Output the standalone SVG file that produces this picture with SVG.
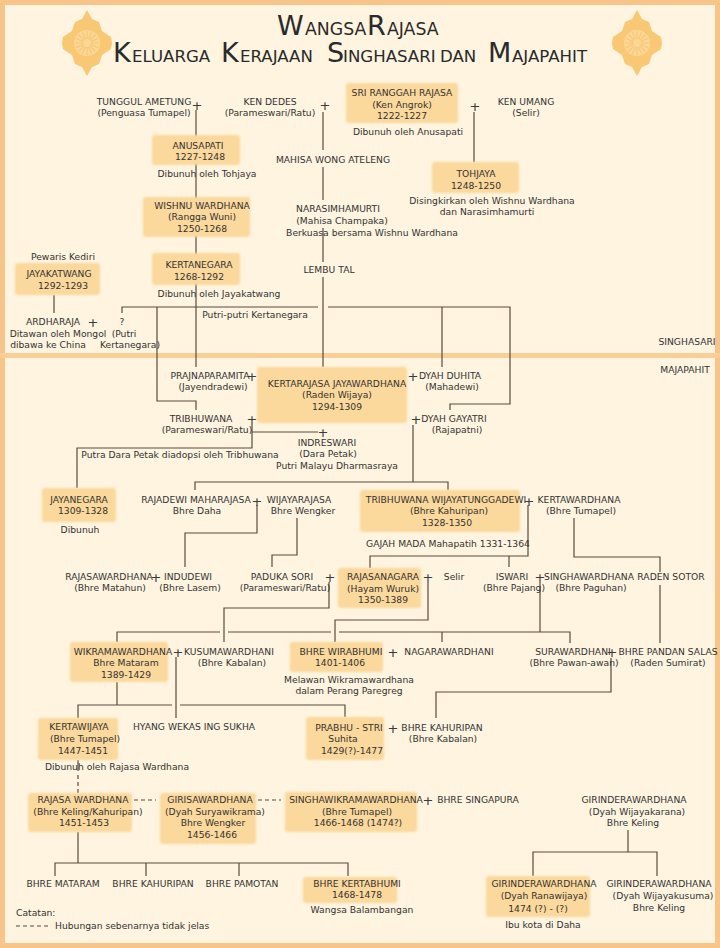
<svg xmlns="http://www.w3.org/2000/svg" width="720" height="948" viewBox="0 0 720 948">
<style>
.t{font-family:"DejaVu Sans","Liberation Sans",sans-serif;font-size:9.2px;fill:#333;text-anchor:middle}
.s{text-anchor:start}
.p{font-family:"DejaVu Sans","Liberation Sans",sans-serif;font-size:13px;fill:#3a3a3a;text-anchor:middle}
.c{fill:none;stroke:#5a4b3d;stroke-width:1.2}
.d{stroke-dasharray:4,3}
.b{fill:#fbd89b;filter:url(#soft)}
.ti{font-family:"DejaVu Sans","Liberation Sans",sans-serif;fill:#2a2a2a}
.big{font-size:27px}
.sm1{font-size:17.3px}
.sm2{font-size:16.6px}
</style>
<defs>
<filter id="soft" x="-5%" y="-10%" width="110%" height="120%"><feGaussianBlur stdDeviation="0.8"/></filter>
<g id="emblem">
<path d="M0,-33 L5,-24 L12,-21 L15,-12 L24,-6 L25,0 L24,6 L15,12 L12,21 L5,24 L0,33 L-5,24 L-12,21 L-15,12 L-24,6 L-25,0 L-24,-6 L-15,-12 L-12,-21 L-5,-24 Z" fill="#f8c874"/>
<circle r="13" fill="#fbd797"/>
<g stroke="#f8c874" stroke-width="1.2">
<path d="M0,-12V-5M0,12V5M-12,0H-5M12,0H5M8.5,-8.5L3.5,-3.5M-8.5,8.5L-3.5,3.5M8.5,8.5L3.5,3.5M-8.5,-8.5L-3.5,-3.5M4.6,-11L1.9,-4.6M-4.6,11L-1.9,4.6M11,-4.6L4.6,-1.9M-11,4.6L-4.6,1.9M11,4.6L4.6,1.9M-11,-4.6L-4.6,-1.9M4.6,11L1.9,4.6M-4.6,-11L-1.9,-4.6"/>
</g>
<circle r="4.5" fill="#fbd797" stroke="#f8c874" stroke-width="1.2"/>
</g>
</defs>

<rect x="0" y="0" width="720" height="948" fill="#fef4df"/>
<rect x="0" y="0" width="720" height="948" fill="none" stroke="#f7c58a" stroke-width="10"/>
<line x1="0" y1="355.5" x2="720" y2="355.5" stroke="#f9cf98" stroke-width="5"/>

<g id="title">
<use href="#emblem" x="87" y="43"/>
<use href="#emblem" x="637" y="43"/>
<text class="ti" y="35"><tspan class="big" x="277">W</tspan><tspan class="sm1" x="305">ANGSA</tspan><tspan class="big" x="367">R</tspan><tspan class="sm1" x="387">AJASA</tspan></text>
<text class="ti" y="62"><tspan class="big" x="113">K</tspan><tspan class="sm2" x="132">ELUARGA </tspan><tspan class="big" x="221">K</tspan><tspan class="sm2" x="240">ERAJAAN </tspan><tspan class="big" x="327">S</tspan><tspan class="sm2" x="343">INGHASARI </tspan><tspan class="sm2" x="440">DAN </tspan><tspan class="big" x="488">M</tspan><tspan class="sm2" x="512">AJAPAHIT</tspan></text>
</g>

<g id="era-labels">
<text class="t" x="687" y="345">SINGHASARI</text>
<text class="t" x="685" y="373">MAJAPAHIT</text>
</g>

<g id="connectors">
<path class="c" d="M196,110V367"/>
<path class="c" d="M323,112V150M323,167V200M323,228V262M323,277V367"/>
<path class="c" d="M474,112V162"/>
<path class="c" d="M54,295V313"/>
<path class="c" d="M122,313V307H318M328,307H510V404H450V410"/>
<path class="c" d="M442,307V367"/>
<path class="c" d="M157,307V401H196V410"/>
<path class="c" d="M252,424V448H77V488"/>
<path class="c" d="M252,432H318"/>
<path class="c" d="M413,425V482M195,490V482H448V490"/>
<path class="c" d="M257,505V533H185V567"/>
<path class="c" d="M297,518V555H272V567"/>
<path class="c" d="M528,505V556H370V568M509,556V567"/>
<path class="c" d="M574,518V557H660V572M660,585V643"/>
<path class="c" d="M329,582V608H224V642"/>
<path class="c" d="M428,582V620H335V642"/>
<path class="c" d="M540,582V632"/>
<path class="c" d="M117,642V632H220M228,632H331M339,632H570V643M442,632V642"/>
<path class="c" d="M117,682V705M78,718V705H172M180,705H345V717"/>
<path class="c" d="M176,657V718"/>
<path class="c" d="M611,658V692H436V718"/>
<path class="c" d="M78,760V771"/>
<path class="c d" d="M78,775V793"/>
<path class="c d" d="M134,800H156M258,800H281"/>
<path class="c" d="M78,832V863M55,876V863H348V876M146,863V876M239,863V876"/>
<path class="c" d="M628,830V852M533,876V852H657V876"/>
<g id="marriages">
<text class="p" x="197" y="109.5">+</text>
<text class="p" x="325" y="109.5">+</text>
<text class="p" x="475" y="110.5">+</text>
<text class="p" x="93" y="326.5">+</text>
<text class="p" x="252" y="380.5">+</text>
<text class="p" x="413" y="380.5">+</text>
<text class="p" x="416" y="423.5">+</text>
<text class="p" x="252" y="423.5">+</text>
<text class="p" x="323" y="436.5">+</text>
<text class="p" x="257" y="505.5">+</text>
<text class="p" x="529" y="505.5">+</text>
<text class="p" x="156" y="581.5">+</text>
<text class="p" x="330" y="581.5">+</text>
<text class="p" x="428" y="581.5">+</text>
<text class="p" x="540" y="581.5">+</text>
<text class="p" x="178" y="656.5">+</text>
<text class="p" x="393" y="656.5">+</text>
<text class="p" x="612" y="656.5">+</text>
<text class="p" x="393" y="732.5">+</text>
<text class="p" x="428" y="804.5">+</text>
</g>
</g>

<g id="n-tunggul"><text class="t" x="144" y="105">TUNGGUL AMETUNG</text><text class="t" x="144" y="116">(Penguasa Tumapel)</text></g>
<g id="n-kendedes"><text class="t" x="270" y="105">KEN DEDES</text><text class="t" x="270" y="116">(Parameswari/Ratu)</text></g>
<g id="n-rajasa"><rect class="b" x="346" y="83" width="112" height="40" rx="3"/><text class="t" x="402" y="96">SRI RANGGAH RAJASA</text><text class="t" x="402" y="108">(Ken Angrok)</text><text class="t" x="402" y="119">1222-1227</text><text class="t" x="408" y="135">Dibunuh oleh Anusapati</text></g>
<g id="n-kenumang"><text class="t" x="526" y="105">KEN UMANG</text><text class="t" x="526" y="116">(Selir)</text></g>
<g id="n-anusapati"><rect class="b" x="152" y="135" width="88" height="30" rx="3"/><text class="t" x="198" y="149">ANUSAPATI</text><text class="t" x="200" y="160">1227-1248</text><text class="t" x="207" y="177">Dibunuh oleh Tohjaya</text></g>
<g id="n-mahisa"><text class="t" x="333" y="163">MAHISA WONG ATELENG</text></g>
<g id="n-tohjaya"><rect class="b" x="432" y="162" width="87" height="31" rx="3"/><text class="t" x="476" y="177">TOHJAYA</text><text class="t" x="476" y="189">1248-1250</text><text class="t" x="492" y="204">Disingkirkan oleh Wishnu Wardhana</text><text class="t" x="487" y="215">dan Narasimhamurti</text></g>
<g id="n-wishnu"><rect class="b" x="143" y="197" width="107" height="40" rx="3"/><text class="t" x="202" y="209">WISHNU WARDHANA</text><text class="t" x="202" y="220">(Rangga Wuni)</text><text class="t" x="202" y="232">1250-1268</text></g>
<g id="n-narasimha"><text class="t" x="338" y="212">NARASIMHAMURTI</text><text class="t" x="342" y="224">(Mahisa Champaka)</text><text class="t" x="372" y="236">Berkuasa bersama Wishnu Wardhana</text></g>
<g id="n-lembutal"><text class="t" x="329" y="273">LEMBU TAL</text></g>
<g id="n-kertanegara"><rect class="b" x="152" y="253" width="88" height="32" rx="3"/><text class="t" x="199" y="268">KERTANEGARA</text><text class="t" x="199" y="280">1268-1292</text><text class="t" x="219" y="297">Dibunuh oleh Jayakatwang</text></g>
<g id="n-jayakatwang"><text class="t" x="63" y="260">Pewaris Kediri</text><rect class="b" x="15" y="263" width="85" height="32" rx="3"/><text class="t" x="59" y="277">JAYAKATWANG</text><text class="t" x="63" y="289">1292-1293</text></g>
<g id="n-ardharaja"><text class="t" x="53" y="325">ARDHARAJA</text><text class="t" x="58" y="337">Ditawan oleh Mongol</text><text class="t" x="48" y="348">dibawa ke China</text></g>
<g id="n-putri"><text class="t" x="122" y="325">?</text><text class="t" x="124" y="337">(Putri</text><text class="t" x="130" y="348">Kertanegara)</text></g>
<g id="lbl-putri"><text class="t" x="255" y="318">Putri-putri Kertanegara</text></g>

<g id="n-prajnaparamita"><text class="t" x="210" y="379">PRAJNAPARAMITA</text><text class="t" x="213" y="390">(Jayendradewi)</text></g>
<g id="n-kertarajasa"><rect class="b" x="257" y="367" width="150" height="56" rx="3"/><text class="t" x="337" y="387">KERTARAJASA JAYAWARDHANA</text><text class="t" x="337" y="398">(Raden Wijaya)</text><text class="t" x="337" y="410">1294-1309</text></g>
<g id="n-duhita"><text class="t" x="450" y="379">DYAH DUHITA</text><text class="t" x="452" y="390">(Mahadewi)</text></g>
<g id="n-gayatri"><text class="t" x="454" y="422">DYAH GAYATRI</text><text class="t" x="457" y="433">(Rajapatni)</text></g>
<g id="n-tribhuwana"><text class="t" x="201" y="422">TRIBHUWANA</text><text class="t" x="207" y="433">(Parameswari/Ratu)</text></g>
<g id="n-indreswari"><text class="t" x="327" y="446">INDRESWARI</text><text class="t" x="328" y="457">(Dara Petak)</text><text class="t" x="337" y="469">Putri Malayu Dharmasraya</text></g>
<g id="lbl-adopsi"><text class="t" x="180" y="458">Putra Dara Petak diadopsi oleh Tribhuwana</text></g>
<g id="n-jayanegara"><rect class="b" x="42" y="488" width="74" height="34" rx="3"/><text class="t" x="79" y="503">JAYANEGARA</text><text class="t" x="83" y="514">1309-1328</text><text class="t" x="80" y="533">Dibunuh</text></g>
<g id="n-rajadewi"><text class="t" x="196" y="503">RAJADEWI MAHARAJASA</text><text class="t" x="197" y="514">Bhre Daha</text></g>
<g id="n-wijayarajasa"><text class="t" x="299" y="503">WIJAYARAJASA</text><text class="t" x="303" y="514">Bhre Wengker</text></g>
<g id="n-tribhuwanatungga"><rect class="b" x="360" y="490" width="160" height="42" rx="3"/><text class="t" x="446" y="503">TRIBHUWANA WIJAYATUNGGADEWI</text><text class="t" x="449" y="514">(Bhre Kahuripan)</text><text class="t" x="447" y="526">1328-1350</text></g>
<g id="n-kertawardhana"><text class="t" x="579" y="503">KERTAWARDHANA</text><text class="t" x="581" y="514">(Bhre Tumapel)</text></g>
<g id="lbl-gajahmada"><text class="t" x="448" y="547">GAJAH MADA Mahapatih 1331-1364</text></g>

<g id="n-rajasawardhana"><text class="t" x="109" y="580">RAJASAWARDHANA</text><text class="t" x="110" y="591">(Bhre Matahun)</text></g>
<g id="n-indudewi"><text class="t" x="188" y="580">INDUDEWI</text><text class="t" x="190" y="591">(Bhre Lasem)</text></g>
<g id="n-padukasori"><text class="t" x="282" y="580">PADUKA SORI</text><text class="t" x="285" y="591">(Parameswari/Ratu)</text></g>
<g id="n-rajasanagara"><rect class="b" x="338" y="568" width="83" height="40" rx="3"/><text class="t" x="383" y="580">RAJASANAGARA</text><text class="t" x="383" y="592">(Hayam Wuruk)</text><text class="t" x="383" y="603">1350-1389</text></g>
<g id="n-selir"><text class="t" x="454" y="580">Selir</text></g>
<g id="n-iswari"><text class="t" x="512" y="580">ISWARI</text><text class="t" x="514" y="591">(Bhre Pajang)</text></g>
<g id="n-singhawardhana"><text class="t" x="589" y="580">SINGHAWARDHANA</text><text class="t" x="591" y="591">(Bhre Paguhan)</text></g>
<g id="n-radensotor"><text class="t" x="671" y="580">RADEN SOTOR</text></g>

<g id="n-wikramawardhana"><rect class="b" x="70" y="642" width="98" height="40" rx="3"/><text class="t" x="123" y="655">WIKRAMAWARDHANA</text><text class="t" x="126" y="666">Bhre Mataram</text><text class="t" x="126" y="678">1389-1429</text></g>
<g id="n-kusumawardhani"><text class="t" x="229" y="655">KUSUMAWARDHANI</text><text class="t" x="232" y="666">(Bhre Kabalan)</text></g>
<g id="n-wirabhumi"><rect class="b" x="290" y="642" width="93" height="30" rx="3"/><text class="t" x="341" y="655">BHRE WIRABHUMI</text><text class="t" x="340" y="666">1401-1406</text><text class="t" x="349" y="683">Melawan Wikramawardhana</text><text class="t" x="349" y="694">dalam Perang Paregreg</text></g>
<g id="n-nagarawardhani"><text class="t" x="449" y="655">NAGARAWARDHANI</text></g>
<g id="n-surawardhani"><text class="t" x="573" y="655">SURAWARDHANI</text><text class="t" x="574" y="666">(Bhre Pawan-awan)</text></g>
<g id="n-pandansalas"><text class="t" x="668" y="655">BHRE PANDAN SALAS</text><text class="t" x="668" y="666">(Raden Sumirat)</text></g>

<g id="n-kertawijaya"><rect class="b" x="38" y="718" width="80" height="42" rx="3"/><text class="t" x="79" y="730">KERTAWIJAYA</text><text class="t" x="85" y="742">(Bhre Tumapel)</text><text class="t" x="83" y="754">1447-1451</text><text class="t" x="117" y="770">Dibunuh oleh Rajasa Wardhana</text></g>
<g id="n-hyangwekas"><text class="t" x="194" y="730">HYANG WEKAS ING SUKHA</text></g>
<g id="n-suhita"><rect class="b" x="306" y="717" width="78" height="43" rx="3"/><text class="t" x="349" y="731">PRABHU - STRI</text><text class="t" x="343" y="742">Suhita</text><text class="t" x="352" y="754">1429(?)-1477</text></g>
<g id="n-bhrekahuripan1"><text class="t" x="442" y="731">BHRE KAHURIPAN</text><text class="t" x="443" y="742">(Bhre Kabalan)</text></g>

<g id="n-rajasawardhana2"><rect class="b" x="28" y="793" width="104" height="39" rx="3"/><text class="t" x="83" y="803">RAJASA WARDHANA</text><text class="t" x="88" y="815">(Bhre Keling/Kahuripan)</text><text class="t" x="84" y="826">1451-1453</text></g>
<g id="n-girisawardhana"><rect class="b" x="160" y="793" width="96" height="51" rx="3"/><text class="t" x="210" y="803">GIRISAWARDHANA</text><text class="t" x="215" y="815">(Dyah Suryawikrama)</text><text class="t" x="213" y="826">Bhre Wengker</text><text class="t" x="212" y="838">1456-1466</text></g>
<g id="n-singhawikrama"><rect class="b" x="285" y="792" width="132" height="40" rx="3"/><text class="t" x="356" y="803">SINGHAWIKRAMAWARDHANA</text><text class="t" x="357" y="815">(Bhre Tumapel)</text><text class="t" x="358" y="826">1466-1468 (1474?)</text></g>
<g id="n-singapura"><text class="t" x="478" y="803">BHRE SINGAPURA</text></g>
<g id="n-girindera1"><text class="t" x="634" y="803">GIRINDERAWARDHANA</text><text class="t" x="637" y="815">(Dyah Wijayakarana)</text><text class="t" x="633" y="826">Bhre Keling</text></g>

<g id="n-bhremataram"><text class="t" x="63" y="887">BHRE MATARAM</text></g>
<g id="n-bhrekahuripan2"><text class="t" x="153" y="887">BHRE KAHURIPAN</text></g>
<g id="n-bhrepamotan"><text class="t" x="242" y="887">BHRE PAMOTAN</text></g>
<g id="n-kertabhumi"><rect class="b" x="303" y="877" width="94" height="26" rx="3"/><text class="t" x="357" y="887">BHRE KERTABHUMI</text><text class="t" x="357" y="898">1468-1478</text><text class="t" x="362" y="913">Wangsa Balambangan</text></g>
<g id="n-girindera2"><rect class="b" x="486" y="876" width="104" height="41" rx="3"/><text class="t" x="544" y="887">GIRINDERAWARDHANA</text><text class="t" x="544" y="899">(Dyah Ranawijaya)</text><text class="t" x="538" y="912">1474 (?) - (?)</text><text class="t" x="543" y="928">Ibu kota di Daha</text></g>
<g id="n-girindera3"><text class="t" x="659" y="887">GIRINDERAWARDHANA</text><text class="t" x="663" y="899">(Dyah Wijayakusuma)</text><text class="t" x="659" y="911">Bhre Keling</text></g>

<g id="legend">
<text class="t s" x="16" y="916">Catatan:</text>
<path class="c d" d="M16,926H50"/>
<text class="t s" x="55" y="929">Hubungan sebenarnya tidak jelas</text>
</g>
</svg>
